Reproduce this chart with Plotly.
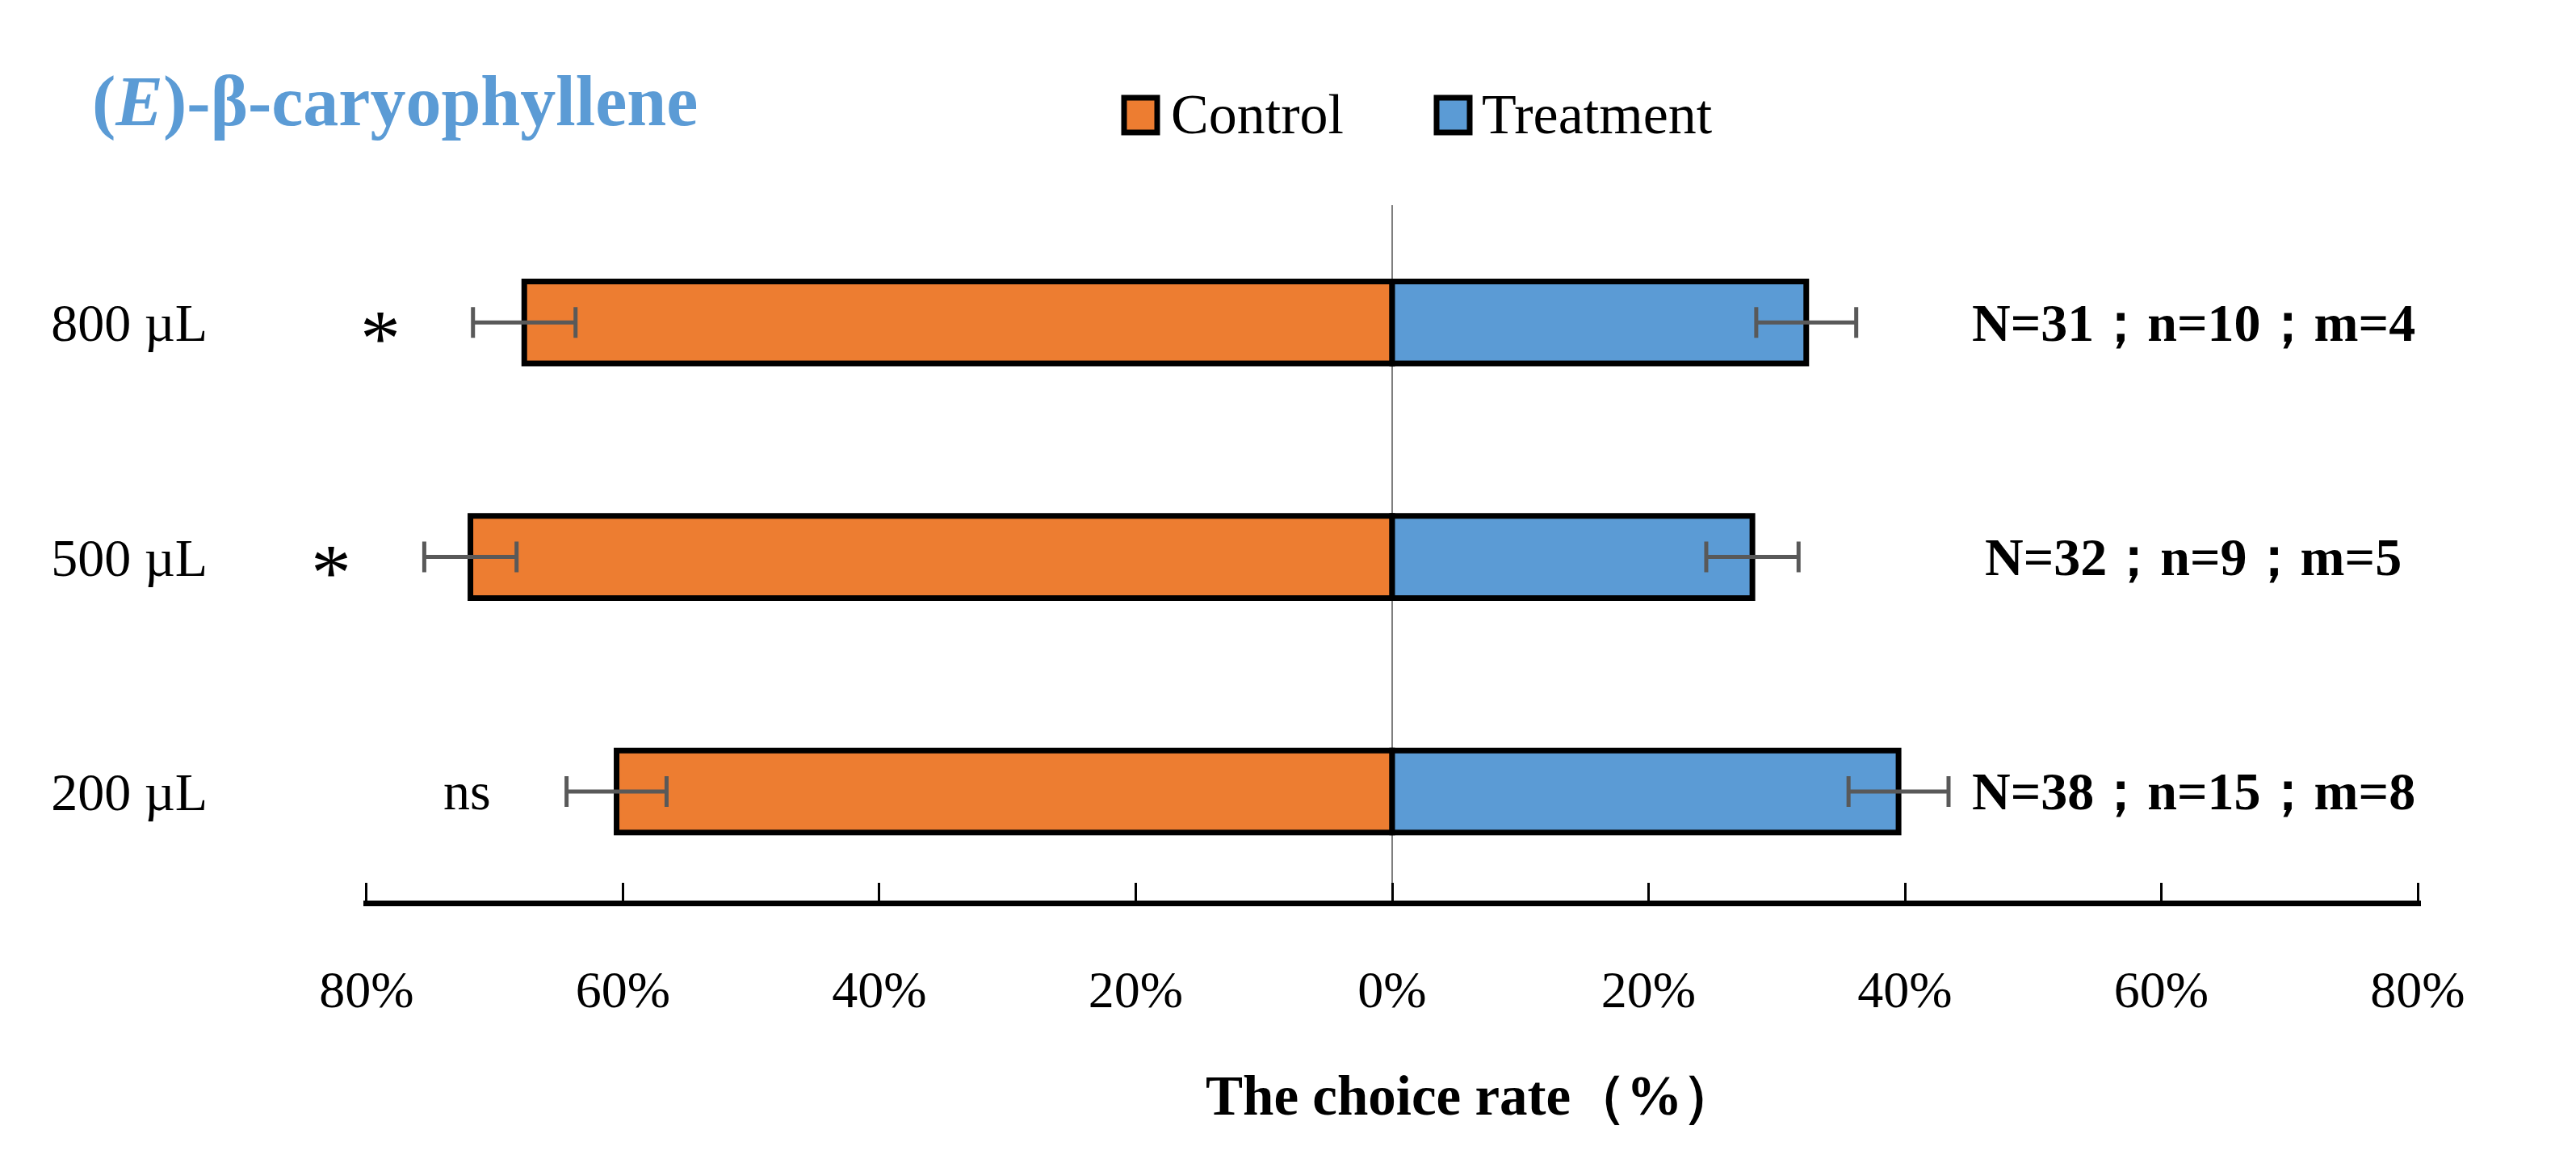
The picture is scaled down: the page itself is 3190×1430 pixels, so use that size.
import plotly.graph_objects as go

# ---- data ----
doses = ["200 µL", "500 µL", "800 µL"]
control = [60.5, 71.9, 67.7]
treatment = [39.5, 28.1, 32.3]
control_err = [3.9, 3.6, 4.0]
treatment_err = [3.9, 3.6, 3.9]
signif = ["ns", "*", "*"]
counts = ["N=38；n=15；m=8", "N=32；n=9；m=5", "N=31；n=10；m=4"]
tick_vals = [-80, -60, -40, -20, 0, 20, 40, 60, 80]
tick_text = ["80%", "60%", "40%", "20%", "0%", "20%", "40%", "60%", "80%"]
series_names = ["Control", "Treatment"]
colors = ["#ED7D31", "#5B9BD5"]
title_text = "<b>(<i>E</i>)-β-caryophyllene</b>"
x_title = "<b>The choice rate（%）</b>"

W, H = 3190, 1430
OFF = 8  # default page body margin
L, R, T, B = 450, 192, 254, 315          # in page coordinates
PW, PH = W - L - R, H - T - B
FONT = "Liberation Serif"


def px_x(p):
    return (p - L) / PW


def px_y(p):
    return (H - B - p) / PH


ypos = list(range(len(doses)))

fig = go.Figure()
fig.add_trace(go.Bar(
    y=ypos, x=[-v for v in control], orientation="h", width=0.35,
    name=series_names[0], showlegend=False,
    marker=dict(color=colors[0], line=dict(color="black", width=7)),
    error_x=dict(type="data", array=control_err, symmetric=True,
                 color="#595959", thickness=5, width=19),
))
fig.add_trace(go.Bar(
    y=ypos, x=treatment, orientation="h", width=0.35,
    name=series_names[1], showlegend=False,
    marker=dict(color=colors[1], line=dict(color="black", width=7)),
    error_x=dict(type="data", array=treatment_err, symmetric=True,
                 color="#595959", thickness=5, width=19),
))

annotations = []
# significance marks, placed left of the error bar end
for i in ypos:
    star = signif[i] == "*"
    annotations.append(dict(
        x=-(control[i] + control_err[i]), y=i, xref="x", yref="y",
        text=signif[i], showarrow=False, xanchor="right", yanchor="middle",
        xshift=-88 if star else -92, yshift=-19 if star else 0,
        font=dict(family=FONT, size=100 if star else 66, color="black")))
# count labels
for i in ypos:
    annotations.append(dict(
        x=62.5, y=i, xref="x", yref="y",
        text="<b>" + counts[i] + "</b>", showarrow=False,
        xanchor="center", yanchor="middle",
        font=dict(family=FONT, size=66, color="black")))
# title
annotations.append(dict(
    x=px_x(112), y=px_y(126), xref="paper", yref="paper",
    text=title_text, showarrow=False, xanchor="left", yanchor="middle",
    font=dict(family=FONT, size=88, color="#5B9BD5")))
# x axis title
annotations.append(dict(
    x=px_x(1491), y=px_y(1357), xref="paper", yref="paper",
    text=x_title, showarrow=False, xanchor="left", yanchor="middle",
    font=dict(family=FONT, size=69, color="black")))

# legend (swatches + labels)
shapes = []
legend_sw = [(1392, 1433), (1779, 1820)]
legend_tx = [1448, 1833]
for k in range(2):
    x0, x1 = legend_sw[k]
    shapes.append(dict(type="rect", xref="paper", yref="paper",
                       x0=px_x(x0), x1=px_x(x1), y0=px_y(164), y1=px_y(121),
                       fillcolor=colors[k], line=dict(color="black", width=7)))
    annotations.append(dict(
        x=px_x(legend_tx[k]), y=px_y(142), xref="paper", yref="paper",
        text=series_names[k], showarrow=False, xanchor="left", yanchor="middle",
        font=dict(family=FONT, size=70, color="black")))

fig.update_layout(
    width=W, height=H,
    margin=dict(l=L - OFF, r=R + OFF, t=T - OFF, b=B + OFF, pad=0),
    paper_bgcolor="white", plot_bgcolor="white",
    barmode="overlay",
    showlegend=False,
    annotations=annotations,
    shapes=shapes,
    font=dict(family=FONT, size=64, color="black"),
    xaxis=dict(
        range=[-80.25, 80.25], tickvals=tick_vals, ticktext=tick_text,
        showgrid=False, zeroline=True, zerolinecolor="#7f7f7f", zerolinewidth=2,
        showline=True, linecolor="black", linewidth=7,
        ticks="inside", ticklen=22, tickwidth=3, tickcolor="black",
        ticklabelstandoff=48,
        tickfont=dict(family=FONT, size=64, color="black"),
    ),
    yaxis=dict(
        range=[-0.465, 2.5], tickvals=ypos, ticktext=doses,
        showgrid=False, zeroline=False, showline=False, ticks="",
        ticklabelstandoff=192,
        tickfont=dict(family=FONT, size=66, color="black"),
    ),
)

fig.write_html("out.html")
